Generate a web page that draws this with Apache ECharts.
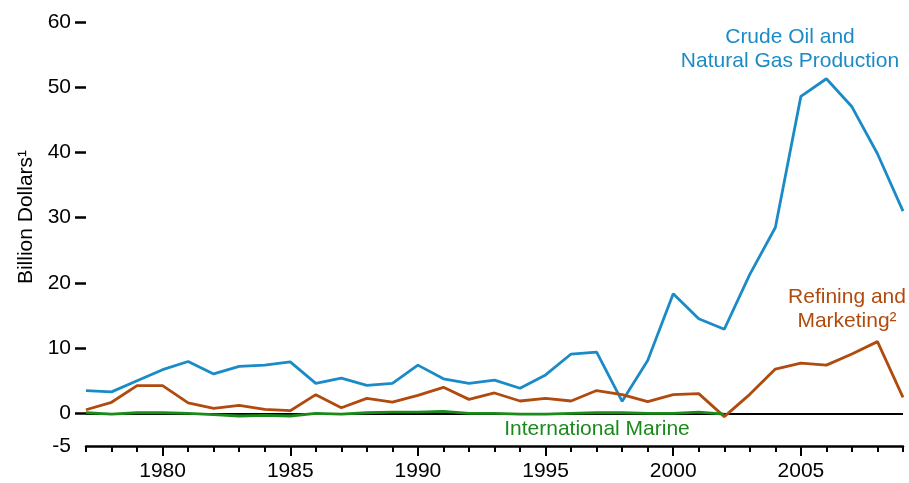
<!DOCTYPE html>
<html>
<head>
<meta charset="utf-8">
<script src="https://cdn.jsdelivr.net/npm/echarts@6/dist/echarts.min.js"></script>
<style>html,body{margin:0;padding:0;background:#fff;}#c{width:909px;height:483px;}</style>
</head>
<body>
<div id="c"></div>
<script>
const years = [1977,1978,1979,1980,1981,1982,1983,1984,1985,1986,1987,1988,1989,1990,1991,1992,1993,1994,1995,1996,1997,1998,1999,2000,2001,2002,2003,2004,2005,2006,2007,2008,2009];
const crudeOilGas = [3.5,3.3,5.0,6.7,7.95,6.05,7.2,7.4,7.9,4.6,5.4,4.3,4.6,7.4,5.3,4.6,5.1,3.85,5.9,9.1,9.4,1.85,8.1,18.35,14.5,12.9,21.3,28.5,48.6,51.3,47.0,39.8,31.0];
const refiningMarketing = [0.56,1.7,4.25,4.25,1.6,0.77,1.23,0.62,0.41,2.87,0.87,2.3,1.74,2.77,4.0,2.15,3.13,1.9,2.3,1.9,3.5,2.87,1.8,2.87,3.03,-0.5,2.92,6.8,7.7,7.4,9.1,11.0,2.46];
const internationalMarine = [0.1,-0.1,0.1,0.1,0,-0.2,-0.4,-0.3,-0.4,0,-0.1,0.1,0.2,0.2,0.3,0,0,-0.1,-0.1,0,0.1,0.1,0,0,0.2,-0.1,null,null,null,null,null,null,null];
const xLabelYears = [1980,1985,1990,1995,2000,2005];
const yTickValues = [0,10,20,30,40,50,60];
const yLabelValues = [-5,0,10,20,30,40,50,60];

const pair = arr => years.map((y,i) => [y, arr[i]]);
const font = 'Liberation Sans, Arial, sans-serif';
const fs = 21;
const chart = echarts.init(document.getElementById('c'));
chart.setOption({
  animation: false,
  backgroundColor: '#fff',
  grid: {left: 86, right: 6, top: 22, bottom: 37},
  xAxis: [{
    type: 'value', min: 1977, max: 2009, interval: 1,
    axisLine: {onZero: false, lineStyle: {color: '#000', width: 2.5}},
    axisTick: {length: 6, lineStyle: {color: '#000', width: 2}},
    axisLabel: {show: false},
    splitLine: {show: false}
  }, {
    type: 'value', min: 1977, max: 2009, position: 'bottom',
    axisLine: {show: false, onZero: false},
    axisTick: {show: true, length: 10, customValues: xLabelYears, lineStyle: {color: '#000', width: 2}},
    axisLabel: {customValues: xLabelYears, formatter: v => String(v), color: '#000', fontSize: fs, fontFamily: font, margin: 15},
    splitLine: {show: false}
  }],
  yAxis: {
    type: 'value', min: -5, max: 60, interval: 5,
    axisLine: {show: false},
    axisTick: {show: true, length: 11, customValues: yTickValues, lineStyle: {color: '#000', width: 2.5}},
    axisLabel: {customValues: yLabelValues, color: '#000', fontSize: fs, fontFamily: font, margin: 15},
    splitLine: {show: false}
  },
  graphic: [
    {type: 'text', x: 26, y: 217, rotation: Math.PI/2, style: {text: 'Billion Dollars¹', fill: '#000', font: fs + 'px ' + font, align: 'center', verticalAlign: 'middle'}},
    {type: 'text', x: 790, y: 37, style: {text: 'Crude Oil and', fill: '#1b8bc7', font: fs + 'px ' + font, align: 'center', verticalAlign: 'middle'}},
    {type: 'text', x: 790, y: 61, style: {text: 'Natural Gas Production', fill: '#1b8bc7', font: fs + 'px ' + font, align: 'center', verticalAlign: 'middle'}},
    {type: 'text', x: 847, y: 297, style: {text: 'Refining and', fill: '#b04b0f', font: fs + 'px ' + font, align: 'center', verticalAlign: 'middle'}},
    {type: 'text', x: 847, y: 321, style: {text: 'Marketing²', fill: '#b04b0f', font: fs + 'px ' + font, align: 'center', verticalAlign: 'middle'}},
    {type: 'text', x: 597, y: 429, style: {text: 'International Marine', fill: '#1a8a1a', font: fs + 'px ' + font, align: 'center', verticalAlign: 'middle'}}
  ],
  series: [{
    name: 'Crude Oil and Natural Gas Production', type: 'line', data: pair(crudeOilGas),
    showSymbol: false, lineStyle: {color: '#1b8bc7', width: 2.8}, z: 3,
    markLine: {silent: true, symbol: 'none', label: {show: false}, lineStyle: {color: '#000', width: 2.2, type: 'solid'}, data: [{yAxis: 0}], z: 1}
  }, {
    name: 'Refining and Marketing', type: 'line', data: pair(refiningMarketing),
    showSymbol: false, lineStyle: {color: '#b04b0f', width: 2.8}, z: 3
  }, {
    name: 'International Marine', type: 'line', data: pair(internationalMarine),
    showSymbol: false, connectNulls: false, lineStyle: {color: '#1a8a1a', width: 2.8}, z: 4
  }]
});
</script>
</body>
</html>
